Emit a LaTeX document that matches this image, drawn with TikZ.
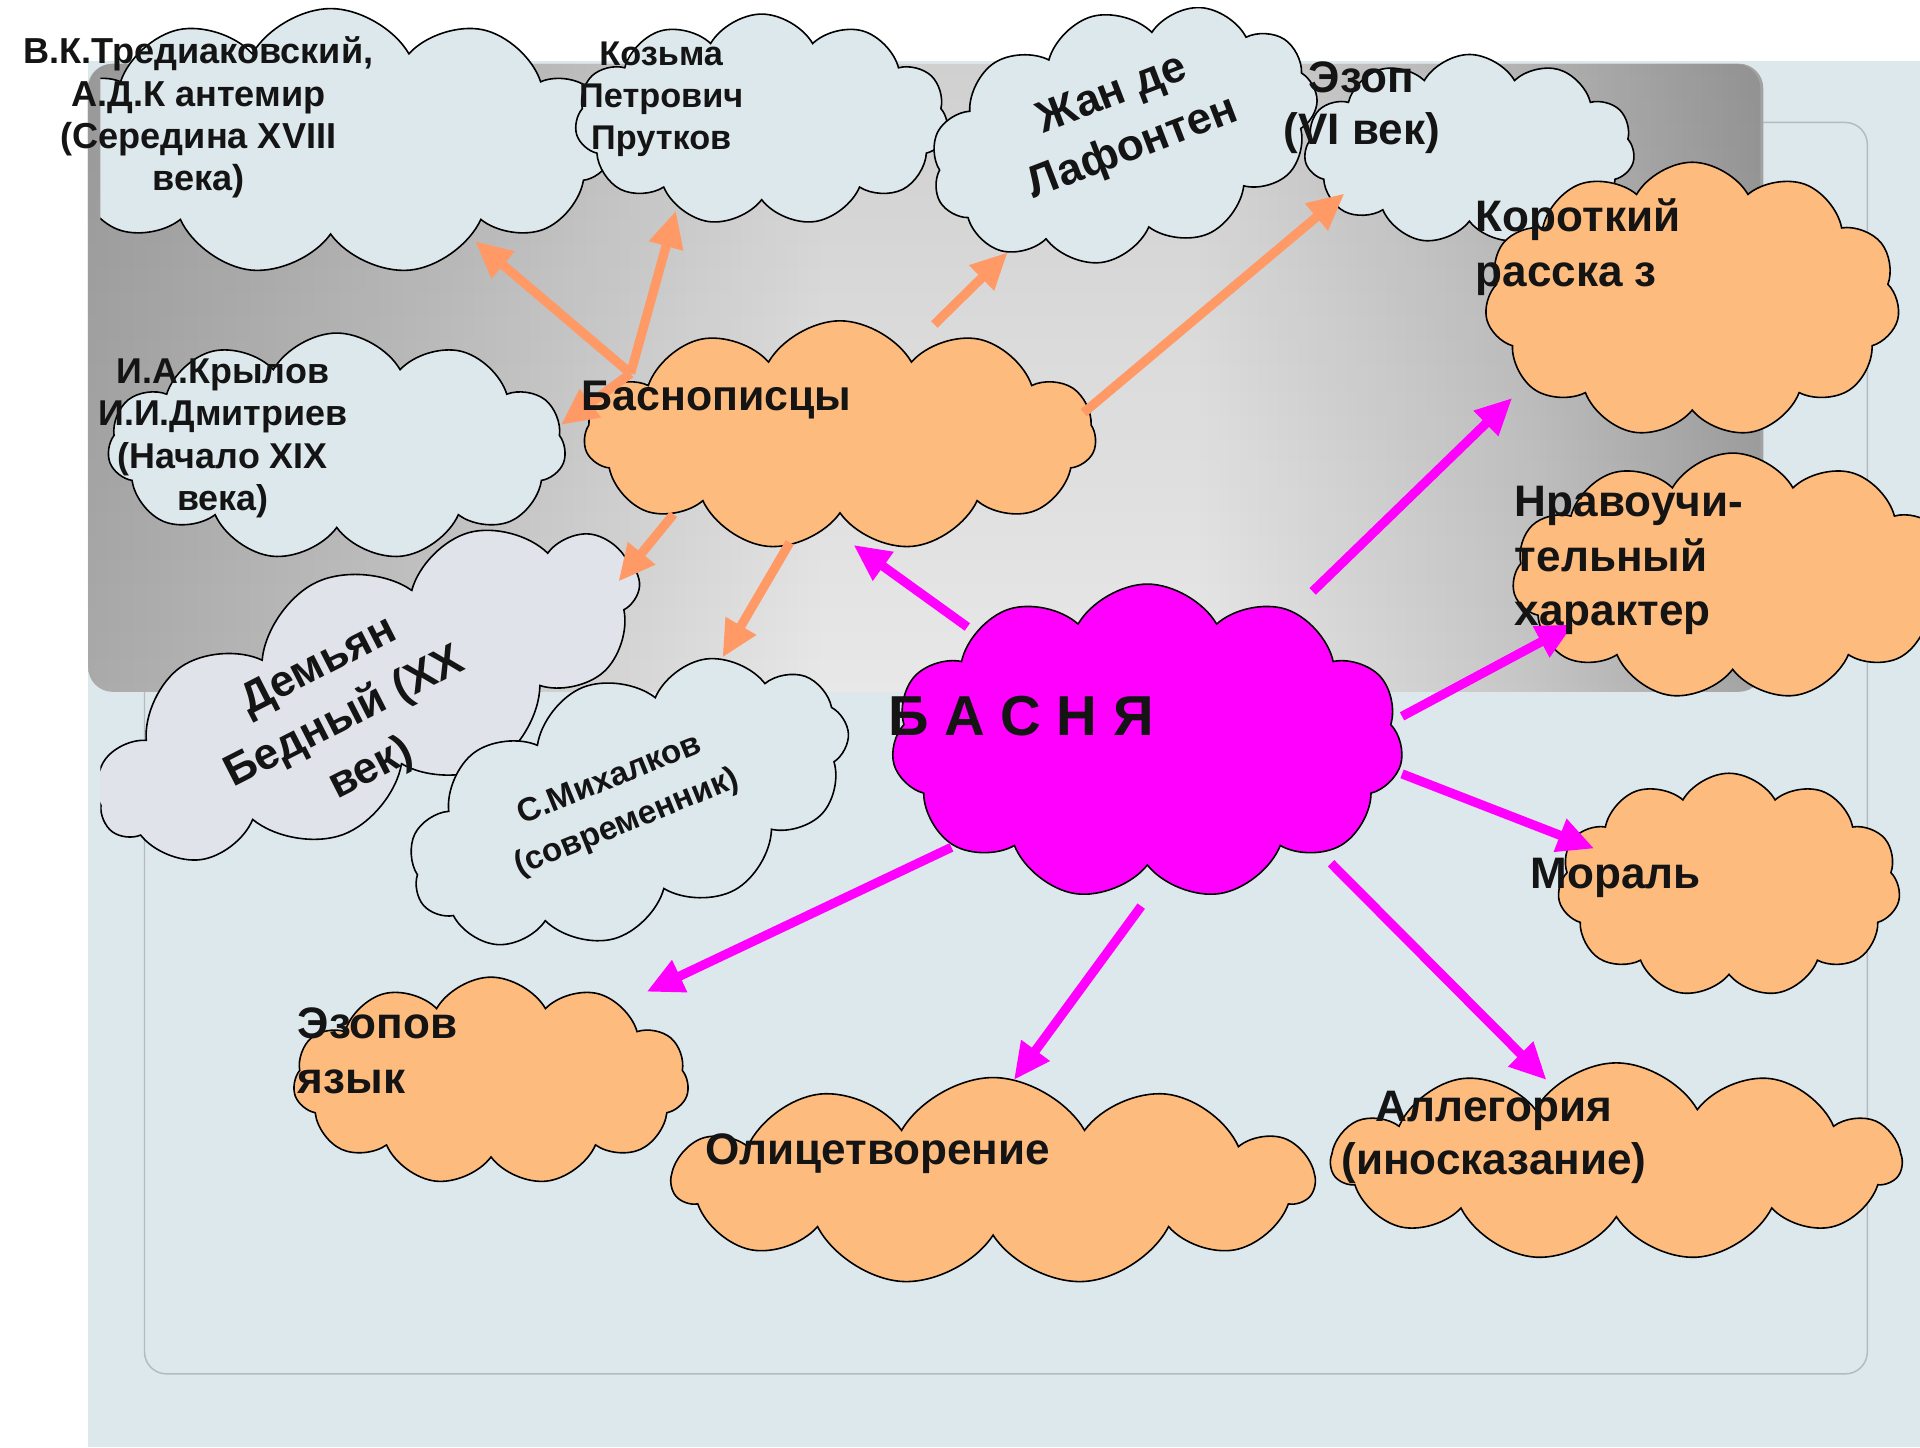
\documentclass[tikz,border=0pt]{standalone}
\usepackage{fontspec}
\setmainfont{Liberation Sans}
\usetikzlibrary{shapes.symbols,arrows.meta,fadings}
\definecolor{bgblue}{HTML}{DDE8ED}
\definecolor{cloudblue}{HTML}{DDE8ED}
\definecolor{cloudlav}{HTML}{E0E3EA}
\definecolor{corange}{HTML}{FDBC7E}
\definecolor{aorange}{HTML}{FF9966}
\definecolor{amag}{HTML}{FF00FF}
\definecolor{gdark}{HTML}{AAAAAA}
\definecolor{gmidl}{HTML}{C4C4C4}
\definecolor{glight}{HTML}{E8E8E8}
\definecolor{gmidr}{HTML}{C6C6C6}
\definecolor{gright}{HTML}{A2A2A2}
\definecolor{framecol}{HTML}{B3BBBE}
\definecolor{ink}{HTML}{141414}
\pgfdeclarehorizontalshading{greybox}{100bp}{color(0bp)=(gdark); color(25bp)=(gdark); color(35bp)=(gmidl); color(47bp)=(glight); color(58bp)=(glight); color(68bp)=(gmidr); color(75bp)=(gright); color(100bp)=(gright)}
\begin{document}
\begin{tikzpicture}[x=1pt,y=-1pt,
  cl/.style={cloud, cloud puffs=11, cloud puff arc=120, cloud ignores aspect, draw=black, line width=1.3pt, inner sep=0pt},
  bcl/.style={cl, fill=cloudblue},
  lcl/.style={cl, fill=cloudlav},
  ocl/.style={cl, fill=corange},
  mcl/.style={cl, fill=amag},
  oarr/.style={draw=aorange, line width=7.5pt, -{Triangle[length=30pt,width=27pt]}},
  marr/.style={draw=amag, line width=7.5pt, -{Triangle[length=30pt,width=27pt]}},
  t28/.style={font=\fontsize{28}{34.5}\selectfont\bfseries, text=ink, inner sep=0pt},
  t36/.style={font=\fontsize{36}{44.5}\selectfont\bfseries, text=ink, inner sep=0pt},
]
\useasboundingbox (0,0) rectangle (1568,1182);
\begin{scope}
\clip (0,0) rectangle (1568,1182);
% backgrounds
\fill[white] (0,0) rectangle (1568,1182);
\fill[bgblue] (72,50) rectangle (1568,1182);
\draw[framecol, line width=1.2pt, rounded corners=18pt] (118,100) rectangle (1525,1122);
\shade[rounded corners=20pt, shading=greybox] (72,52) rectangle (1440,565);
\fill[black, opacity=0.10, path fading=south, rounded corners=20pt] (72,52) rectangle (1440,565);

% clouds
\begin{scope}
\clip (82,6) rectangle (1568,1182);
\node[bcl, minimum width=460pt, minimum height=218pt] (tred) at (270,116) {};
\node[bcl, minimum width=305pt, minimum height=173pt] (kozma) at (622,98) {};
\node[bcl, rotate=15, minimum width=322pt, minimum height=200pt] (laf) at (918,110) {};
\node[bcl, minimum width=270pt, minimum height=155pt] (ezop) at (1200,122) {};
\node[ocl, minimum width=339pt, minimum height=225pt] (kor) at (1382,245) {};
\node[ocl, minimum width=360pt, minimum height=202pt] (nrav) at (1415,471) {};
\node[ocl, minimum width=280pt, minimum height=183pt] (moral) at (1412,723) {};
\node[ocl, minimum width=465pt, minimum height=162pt] (alleg) at (1320,949) {};
\node[ocl, minimum width=523pt, minimum height=170pt] (olic) at (811,965) {};
\node[ocl, minimum width=323pt, minimum height=170pt] (ezopov) at (401,883) {};
\node[bcl, minimum width=374pt, minimum height=186pt] (kryl) at (275,365) {};
\node[ocl, minimum width=418pt, minimum height=188pt] (basnop) at (686,356) {};
\node[lcl, rotate=25, minimum width=480pt, minimum height=200pt] (dem) at (301,566) {};
\node[bcl, rotate=22, minimum width=378pt, minimum height=204pt] (mikh) at (514,656) {};
\node[mcl, minimum width=418pt, minimum height=258pt] (basnya) at (937,606) {};
\end{scope}

% orange arrows
\draw[oarr] ([shift={(-171,-51)}]basnop.center) -- ([shift={(118,81)}]tred.center);
\draw[oarr] ([shift={(-171,-51)}]basnop.center) -- ([shift={(-70,74)}]kozma.center);
\draw[oarr] ([shift={(-171,-51)}]basnop.center) -- ([shift={(183,-18)}]kryl.center);
\draw[oarr] ([shift={(77,-91)}]basnop.center) -- ([shift={(-95,96)}]laf.center);
\draw[oarr] ([shift={(199,-19)}]basnop.center) -- ([shift={(-102,36)}]ezop.center);
\draw[oarr] ([shift={(-136,64)}]basnop.center) -- ([shift={(204,-91)}]dem.center);
\draw[oarr] ([shift={(-41,87)}]basnop.center) -- ([shift={(76,-119)}]mikh.center);
% magenta arrows
\draw[marr] ([shift={(-147,-94)}]basnya.center) -- ([shift={(11,89)}]basnop.center);
\draw[marr] ([shift={(135,-123)}]basnya.center) -- ([shift={(-147,80)}]kor.center);
\draw[marr] ([shift={(208,-21)}]basnya.center) -- ([shift={(-130,39)}]nrav.center);
\draw[marr] ([shift={(208,26)}]basnya.center) -- ([shift={(-110,-30)}]moral.center);
\draw[marr] ([shift={(150,99)}]basnya.center) -- ([shift={(-57,-67)}]alleg.center);
\draw[marr] ([shift={(-5,134)}]basnya.center) -- ([shift={(17,-83)}]olic.center);
\draw[marr] ([shift={(-160,86)}]basnya.center) -- ([shift={(127,-73)}]ezopov.center);

% texts
\node[t28, align=center, font=\fontsize{29.5}{34.5}\selectfont\bfseries] (ttred) at (162,96) {В.К.Тредиаковский,\\А.Д.К антемир\\(Середина XVIII\\века)};
\node[t28, align=center] (tkozma) at (540,81) {Козьма\\Петрович\\Прутков};
\node[t36, align=center, rotate=21, font=\fontsize{36}{47}\selectfont\bfseries] (tlaf) at (917,100) {Жан де\\Лафонтен};
\node[t36, align=center, font=\fontsize{36}{43}\selectfont\bfseries] (tezop) at (1112,88) {Эзоп\\(VI век)};
\node[t36, align=left, anchor=west] (tkor) at (1205,202) {Короткий\\расска з};
\node[t36, align=left, anchor=west] (tnrav) at (1237,458) {Нравоучи-\\тельный\\характер};
\node[t36, anchor=west] (tmoral) at (1250,717) {Мораль};
\node[t36, align=center, font=\fontsize{36}{43}\selectfont\bfseries] (talleg) at (1220,929) {Аллегория\\(иносказание)};
\node[t36, anchor=west] (tolic) at (576,942) {Олицетворение};
\node[t36, align=left, anchor=west] (tezopov) at (243,858) {Эзопов\\язык};
\node[t36, anchor=west, font=\fontsize{35}{43}\selectfont\bfseries] (tbasnop) at (475,327) {Баснописцы};
\node[t28, align=center, font=\fontsize{29.3}{34.5}\selectfont\bfseries] (tkryl) at (182,358) {И.А.Крылов\\И.И.Дмитриев\\(Начало XIX\\века)};
\node[t36, align=center, rotate=27, font=\fontsize{36}{47}\selectfont\bfseries] (tdem) at (282,587) {Демьян\\Бедный (XX\\век)};
\node[t28, align=center, rotate=22, font=\fontsize{27}{38}\selectfont\bfseries] (tmikh) at (505,655) {С.Михалков\\(современник)};
\node[t36, anchor=west, font=\fontsize{46}{50}\selectfont\bfseries] (tbasnya) at (725,585) {Б А С Н Я};
\end{scope}
\end{tikzpicture}
\end{document}
